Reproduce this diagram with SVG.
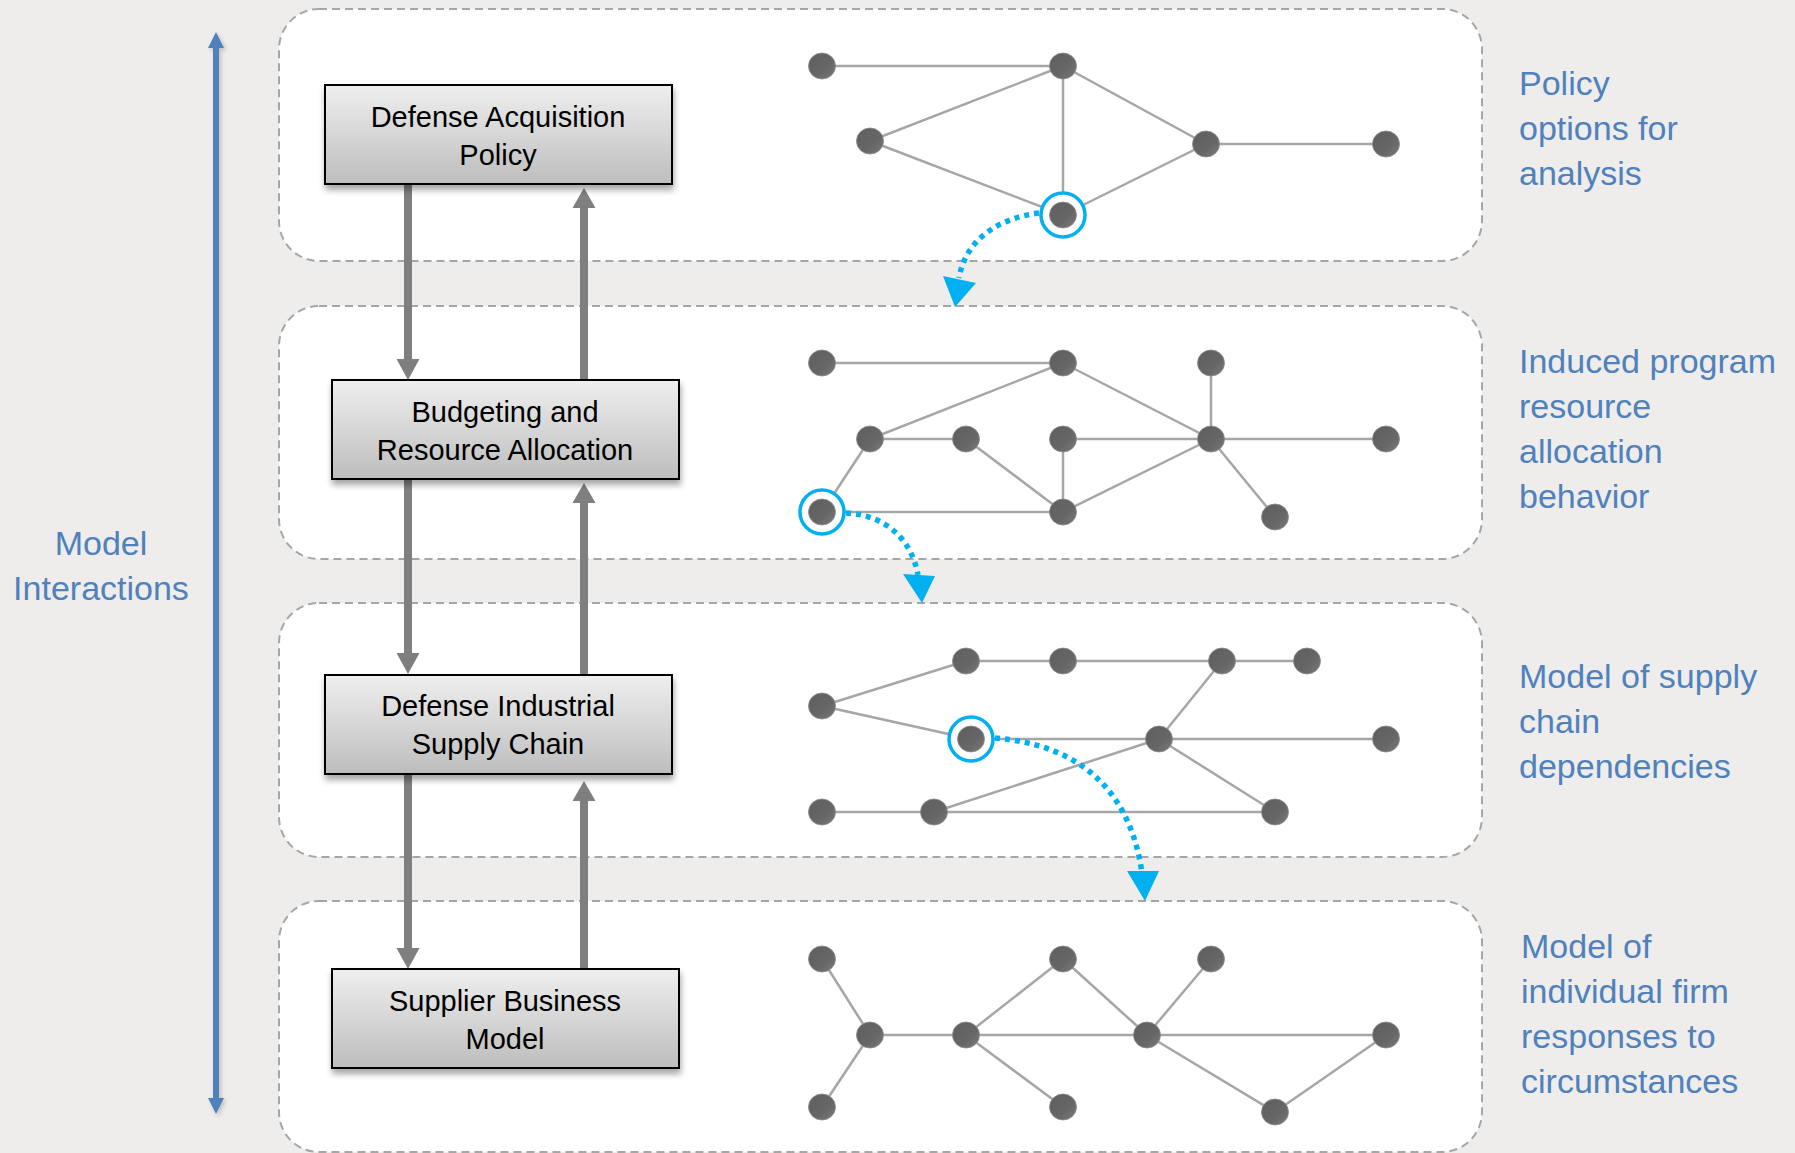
<svg xmlns="http://www.w3.org/2000/svg" width="1795" height="1153" viewBox="0 0 1795 1153">
<defs>
<linearGradient id="boxg" x1="0" y1="0" x2="0" y2="1">
<stop offset="0" stop-color="#EFEFEF"/>
<stop offset="1" stop-color="#BDBDBD"/>
</linearGradient>
<linearGradient id="nodeg" x1="0" y1="0" x2="1" y2="1">
<stop offset="0" stop-color="#5E5E5E"/>
<stop offset="0.6" stop-color="#666666"/>
<stop offset="1" stop-color="#7A7A7A"/>
</linearGradient>
<filter id="shadow" x="-10%" y="-20%" width="120%" height="150%">
<feDropShadow dx="1" dy="5" stdDeviation="3" flood-color="#000" flood-opacity="0.35"/>
</filter>
<filter id="ashadow" x="-50%" y="-5%" width="200%" height="110%">
<feDropShadow dx="2" dy="2" stdDeviation="2" flood-color="#000" flood-opacity="0.2"/>
</filter>
</defs>
<style>
.panel{fill:#FFFFFF;stroke:#A6A6A6;stroke-width:2;stroke-dasharray:8 5}
.box{fill:url(#boxg);stroke:#000;stroke-width:2;filter:url(#shadow)}
.bt{font-family:"Liberation Sans",Arial,sans-serif;font-size:29px;fill:#000;text-anchor:middle}
.rt{font-family:"Liberation Sans",Arial,sans-serif;font-size:34px;fill:#4F81BD}
.edge{stroke:#A6A6A6;stroke-width:2.5;fill:none}
.node{fill:url(#nodeg);stroke:#8A8A8A;stroke-width:0.8}
.ring{fill:#FFFFFF;stroke:#00B0F0;stroke-width:3.5}
.dot{stroke:#00B0F0;stroke-width:5.5;fill:none;stroke-dasharray:5 5}
.dhead{fill:#00B0F0}
.ga{stroke:#7F7F7F;stroke-width:8;fill:none}
.gh{fill:#7F7F7F}
</style>
<rect x="0" y="0" width="1795" height="1153" fill="#EEEDEB"/>

<g id="panels">
<rect class="panel" x="279" y="9" width="1203" height="252" rx="40" ry="40"/>
<rect class="panel" x="279" y="306" width="1203" height="253" rx="40" ry="40"/>
<rect class="panel" x="279" y="603" width="1203" height="254" rx="40" ry="40"/>
<rect class="panel" x="279" y="901" width="1203" height="251" rx="40" ry="40"/>
</g>

<g id="axis" filter="url(#ashadow)">
<line x1="216" y1="45" x2="216" y2="1100" stroke="#4F81BD" stroke-width="6"/>
<polygon points="208,48 224,48 216,32" fill="#4F81BD"/>
<polygon points="208,1098 224,1098 216,1114" fill="#4F81BD"/>
</g>
<text class="rt" x="101" y="555" text-anchor="middle" font-size="36">Model</text>
<text class="rt" x="101" y="600" text-anchor="middle" font-size="36">Interactions</text>

<g id="connectors">
<line class="ga" x1="408" y1="185" x2="408" y2="362"/>
<polygon class="gh" points="396.5,359 419.5,359 408,380"/>
<line class="ga" x1="584" y1="380" x2="584" y2="205"/>
<polygon class="gh" points="572.5,208 595.5,208 584,188"/>
<line class="ga" x1="408" y1="480" x2="408" y2="656"/>
<polygon class="gh" points="396.5,653 419.5,653 408,674"/>
<line class="ga" x1="584" y1="675" x2="584" y2="500"/>
<polygon class="gh" points="572.5,503 595.5,503 584,483"/>
<line class="ga" x1="408" y1="775" x2="408" y2="950"/>
<polygon class="gh" points="396.5,948 419.5,948 408,969"/>
<line class="ga" x1="584" y1="969" x2="584" y2="798"/>
<polygon class="gh" points="572.5,801 595.5,801 584,781"/>
</g>

<g id="box-policy">
<rect class="box" x="325" y="85" width="347" height="99"/>
<text class="bt" x="498" y="127">Defense Acquisition</text>
<text class="bt" x="498" y="165">Policy</text>
</g>
<g id="box-budget">
<rect class="box" x="332" y="380" width="347" height="99"/>
<text class="bt" x="505" y="422">Budgeting and</text>
<text class="bt" x="505" y="460">Resource Allocation</text>
</g>
<g id="box-supply">
<rect class="box" x="325" y="675" width="347" height="99"/>
<text class="bt" x="498" y="716">Defense Industrial</text>
<text class="bt" x="498" y="754">Supply Chain</text>
</g>
<g id="box-supplier">
<rect class="box" x="332" y="969" width="347" height="99"/>
<text class="bt" x="505" y="1011">Supplier Business</text>
<text class="bt" x="505" y="1049">Model</text>
</g>

<g id="network-1">
<g class="edge">
<line x1="822" y1="66" x2="1063" y2="66"/>
<line x1="1063" y1="66" x2="870" y2="141"/>
<line x1="1063" y1="66" x2="1063" y2="215"/>
<line x1="1063" y1="66" x2="1206" y2="144"/>
<line x1="870" y1="141" x2="1063" y2="215"/>
<line x1="1206" y1="144" x2="1386" y2="144"/>
<line x1="1206" y1="144" x2="1063" y2="215"/>
</g>
<ellipse class="ring" cx="1063" cy="215" rx="22" ry="22"/>
<g class="node">
<ellipse cx="822" cy="66" rx="13.5" ry="13"/>
<ellipse cx="1063" cy="66" rx="13.5" ry="13"/>
<ellipse cx="870" cy="141" rx="13.5" ry="13"/>
<ellipse cx="1206" cy="144" rx="13.5" ry="13"/>
<ellipse cx="1386" cy="144" rx="13.5" ry="13"/>
<ellipse cx="1063" cy="215" rx="13.5" ry="13"/>
</g>
</g>

<g id="network-2">
<g class="edge">
<line x1="822" y1="363" x2="1063" y2="363"/>
<line x1="1063" y1="363" x2="870" y2="439"/>
<line x1="1063" y1="363" x2="1211" y2="439"/>
<line x1="1211" y1="363" x2="1211" y2="439"/>
<line x1="870" y1="439" x2="966" y2="439"/>
<line x1="870" y1="439" x2="822" y2="512"/>
<line x1="966" y1="439" x2="1063" y2="512"/>
<line x1="1063" y1="439" x2="1211" y2="439"/>
<line x1="1063" y1="439" x2="1063" y2="512"/>
<line x1="1211" y1="439" x2="1386" y2="439"/>
<line x1="1211" y1="439" x2="1063" y2="512"/>
<line x1="1211" y1="439" x2="1275" y2="517"/>
<line x1="822" y1="512" x2="1063" y2="512"/>
</g>
<ellipse class="ring" cx="822" cy="512" rx="22" ry="22"/>
<g class="node">
<ellipse cx="822" cy="363" rx="13.5" ry="13"/>
<ellipse cx="1063" cy="363" rx="13.5" ry="13"/>
<ellipse cx="1211" cy="363" rx="13.5" ry="13"/>
<ellipse cx="870" cy="439" rx="13.5" ry="13"/>
<ellipse cx="966" cy="439" rx="13.5" ry="13"/>
<ellipse cx="1063" cy="439" rx="13.5" ry="13"/>
<ellipse cx="1211" cy="439" rx="13.5" ry="13"/>
<ellipse cx="1386" cy="439" rx="13.5" ry="13"/>
<ellipse cx="822" cy="512" rx="13.5" ry="13"/>
<ellipse cx="1063" cy="512" rx="13.5" ry="13"/>
<ellipse cx="1275" cy="517" rx="13.5" ry="13"/>
</g>
</g>

<g id="network-3">
<g class="edge">
<line x1="966" y1="661" x2="1063" y2="661"/>
<line x1="1063" y1="661" x2="1222" y2="661"/>
<line x1="1222" y1="661" x2="1307" y2="661"/>
<line x1="822" y1="706" x2="966" y2="661"/>
<line x1="822" y1="706" x2="971" y2="739"/>
<line x1="971" y1="739" x2="1159" y2="739"/>
<line x1="1222" y1="661" x2="1159" y2="739"/>
<line x1="1159" y1="739" x2="1386" y2="739"/>
<line x1="1159" y1="739" x2="1275" y2="812"/>
<line x1="934" y1="812" x2="1159" y2="739"/>
<line x1="822" y1="812" x2="934" y2="812"/>
<line x1="934" y1="812" x2="1275" y2="812"/>
</g>
<ellipse class="ring" cx="971" cy="739" rx="22" ry="22"/>
<g class="node">
<ellipse cx="966" cy="661" rx="13.5" ry="13"/>
<ellipse cx="1063" cy="661" rx="13.5" ry="13"/>
<ellipse cx="1222" cy="661" rx="13.5" ry="13"/>
<ellipse cx="1307" cy="661" rx="13.5" ry="13"/>
<ellipse cx="822" cy="706" rx="13.5" ry="13"/>
<ellipse cx="971" cy="739" rx="13.5" ry="13"/>
<ellipse cx="1159" cy="739" rx="13.5" ry="13"/>
<ellipse cx="1386" cy="739" rx="13.5" ry="13"/>
<ellipse cx="822" cy="812" rx="13.5" ry="13"/>
<ellipse cx="934" cy="812" rx="13.5" ry="13"/>
<ellipse cx="1275" cy="812" rx="13.5" ry="13"/>
</g>
</g>

<g id="network-4">
<g class="edge">
<line x1="822" y1="959" x2="870" y2="1035"/>
<line x1="870" y1="1035" x2="822" y2="1107"/>
<line x1="870" y1="1035" x2="966" y2="1035"/>
<line x1="966" y1="1035" x2="1063" y2="959"/>
<line x1="966" y1="1035" x2="1147" y2="1035"/>
<line x1="966" y1="1035" x2="1063" y2="1107"/>
<line x1="1063" y1="959" x2="1147" y2="1035"/>
<line x1="1211" y1="959" x2="1147" y2="1035"/>
<line x1="1147" y1="1035" x2="1386" y2="1035"/>
<line x1="1147" y1="1035" x2="1275" y2="1112"/>
<line x1="1275" y1="1112" x2="1386" y2="1035"/>
</g>
<g class="node">
<ellipse cx="822" cy="959" rx="13.5" ry="13"/>
<ellipse cx="1063" cy="959" rx="13.5" ry="13"/>
<ellipse cx="1211" cy="959" rx="13.5" ry="13"/>
<ellipse cx="870" cy="1035" rx="13.5" ry="13"/>
<ellipse cx="966" cy="1035" rx="13.5" ry="13"/>
<ellipse cx="1147" cy="1035" rx="13.5" ry="13"/>
<ellipse cx="1386" cy="1035" rx="13.5" ry="13"/>
<ellipse cx="822" cy="1107" rx="13.5" ry="13"/>
<ellipse cx="1063" cy="1107" rx="13.5" ry="13"/>
<ellipse cx="1275" cy="1112" rx="13.5" ry="13"/>
</g>
</g>

<g id="dotted-arrows">
<path class="dot" d="M1039,213 C1000,218 966,238 959,278"/>
<polygon class="dhead" points="943,276 976,283 955,307"/>
<path class="dot" d="M846,513 C885,515 911,538 918,575"/>
<polygon class="dhead" points="903,574 935,576 922,603"/>
<path class="dot" d="M995,738 C1080,745 1130,790 1142,873"/>
<polygon class="dhead" points="1127,871 1159,871 1145,901"/>
</g>

<g id="labels">
<text class="rt" x="1519" y="95">Policy</text>
<text class="rt" x="1519" y="140">options for</text>
<text class="rt" x="1519" y="185">analysis</text>
<text class="rt" x="1519" y="373">Induced program</text>
<text class="rt" x="1519" y="418">resource</text>
<text class="rt" x="1519" y="463">allocation</text>
<text class="rt" x="1519" y="508">behavior</text>
<text class="rt" x="1519" y="688">Model of supply</text>
<text class="rt" x="1519" y="733">chain</text>
<text class="rt" x="1519" y="778">dependencies</text>
<text class="rt" x="1521" y="958">Model of</text>
<text class="rt" x="1521" y="1003">individual firm</text>
<text class="rt" x="1521" y="1048">responses to</text>
<text class="rt" x="1521" y="1093">circumstances</text>
</g>
</svg>
